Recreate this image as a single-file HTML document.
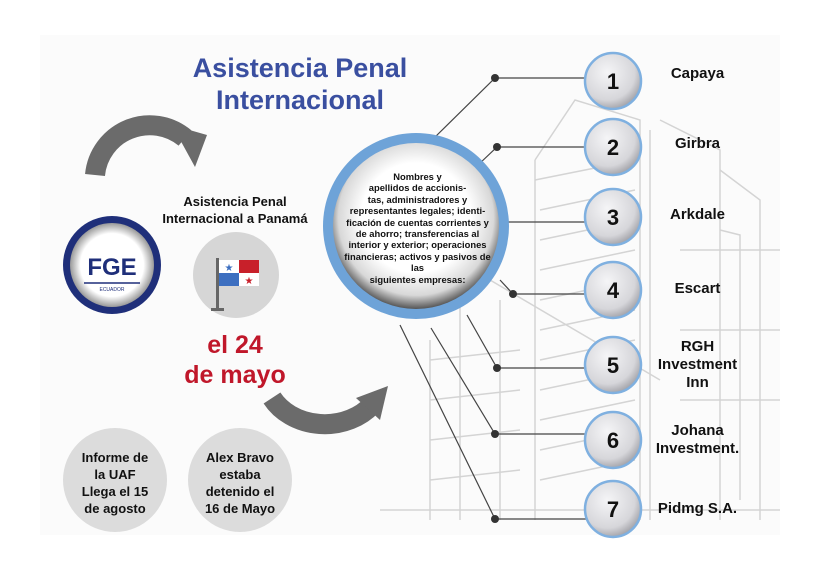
<!DOCTYPE html>
<html><head><meta charset="utf-8"><style>
html,body{margin:0;padding:0;background:#fff;}
body{width:819px;height:561px;position:relative;overflow:hidden;font-family:"Liberation Sans",Arial,sans-serif;}
.t{position:absolute;font-weight:bold;text-align:center;}
</style></head><body>
<svg width="819" height="561" style="position:absolute;left:0;top:0">
<defs>
<radialGradient id="g1" cx="50%" cy="45%" r="55%"><stop offset="0.6" stop-color="#fff"/><stop offset="0.85" stop-color="#d8d8d8"/><stop offset="1" stop-color="#555"/></radialGradient>
<radialGradient id="g2" cx="40%" cy="35%" r="70%"><stop offset="0" stop-color="#f5f5f7"/><stop offset="0.7" stop-color="#d6d6da"/><stop offset="1" stop-color="#9a9aa0"/></radialGradient>
<radialGradient id="g3" cx="50%" cy="50%" r="50%"><stop offset="0.75" stop-color="#fff"/><stop offset="1" stop-color="#999"/></radialGradient>
</defs>
<rect x="40" y="35" width="740" height="500" fill="#fbfbfb"/>
<g stroke="#d4d4d4" stroke-width="1.5" fill="none">
<path d="M535 160 L575 100 L640 120 L640 520 M535 160 L535 520"/>
<path d="M535 180 L635 160 M540 210 L635 190 M540 240 L635 220 M540 270 L635 250 M540 300 L635 280 M540 330 L635 310 M540 360 L635 340 M540 390 L635 370 M540 420 L635 400 M540 450 L635 430 M540 480 L635 460"/>
<path d="M660 120 L720 150 L720 520 M650 130 L650 520"/>
<path d="M720 170 L760 200 L760 520 M720 230 L740 235 L740 500"/>
<path d="M430 340 L430 520 M460 300 L460 520 M500 300 L500 520 M430 360 L520 350 M430 400 L520 390 M430 440 L520 430 M430 480 L520 470"/>
<path d="M490 280 L660 380 M380 510 L780 510"/>
<path d="M680 250 L780 250 M680 330 L780 330 M680 400 L780 400"/>
</g>
<path d="M95 175 A55 55 0 0 1 185 138" stroke="#6b6b6b" stroke-width="20" fill="none"/>
<polygon points="172,125 207,135 195,167" fill="#6b6b6b"/>
<path d="M272 398 A60 50 0 0 0 372 405" stroke="#6b6b6b" stroke-width="20" fill="none"/>
<polygon points="356,398 388,386 380,420" fill="#6b6b6b"/>
<g stroke="#444" stroke-width="1.2" fill="none">
<path d="M431 141 L495 78 L590 78"/>
<path d="M478 165 L497 147 L590 147"/>
<path d="M508 222 L590 222"/>
<path d="M500 280 L513 294 L590 294"/>
<path d="M467 315 L497 368 L590 368"/>
<path d="M431 328 L495 434 L590 434"/>
<path d="M400 325 L495 519 L590 519"/>
</g>
<g fill="#333">
<circle cx="495" cy="78" r="4"/><circle cx="497" cy="147" r="4"/><circle cx="513" cy="294" r="4"/>
<circle cx="497" cy="368" r="4"/><circle cx="495" cy="434" r="4"/><circle cx="495" cy="519" r="4"/>
</g>
<circle cx="416" cy="226" r="93" fill="#6ea3d8"/>
<circle cx="416" cy="226" r="83" fill="url(#g1)"/>
<g stroke="#7fb0e0" stroke-width="2.5" fill="url(#g2)">
<circle cx="613" cy="81" r="28"/><circle cx="613" cy="147" r="28"/><circle cx="613" cy="217" r="28"/>
<circle cx="613" cy="290" r="28"/><circle cx="613" cy="365" r="28"/><circle cx="613" cy="440" r="28"/><circle cx="613" cy="509" r="28"/>
</g>
<g font-family="Liberation Sans,Arial,sans-serif" font-weight="bold" font-size="22" fill="#111" text-anchor="middle">
<text x="613" y="89">1</text><text x="613" y="155">2</text><text x="613" y="225">3</text><text x="613" y="298">4</text>
<text x="613" y="373">5</text><text x="613" y="448">6</text><text x="613" y="517">7</text>
</g>
<circle cx="112" cy="265" r="49" fill="#1f2f7a"/>
<circle cx="112" cy="265" r="42" fill="url(#g3)"/>
<text x="112" y="275" text-anchor="middle" font-family="Liberation Sans,Arial,sans-serif" font-weight="bold" font-size="24" fill="#1f2f7a">FGE</text>
<line x1="84" y1="283" x2="140" y2="283" stroke="#1f2f7a" stroke-width="1.5"/>
<text x="112" y="291" text-anchor="middle" font-family="Liberation Sans,Arial,sans-serif" font-size="5" fill="#1f2f7a">ECUADOR</text>
<circle cx="236" cy="275" r="43" fill="#d6d6d6"/>
<rect x="216" y="258" width="3" height="52" fill="#666"/><rect x="211" y="308" width="13" height="3" fill="#666"/>
<rect x="219" y="260" width="20" height="13" fill="#fff"/><rect x="239" y="260" width="20" height="13" fill="#c8202a"/>
<rect x="219" y="273" width="20" height="13" fill="#3d6fc0"/><rect x="239" y="273" width="20" height="13" fill="#fff"/>
<text x="229" y="271" font-size="10" text-anchor="middle" fill="#3d6fc0">★</text>
<text x="249" y="284" font-size="10" text-anchor="middle" fill="#c8202a">★</text>
<circle cx="115" cy="480" r="52" fill="#dcdcdc"/>
<circle cx="240" cy="480" r="52" fill="#dcdcdc"/>
</svg>
<div class="t" style="left:160px;top:52px;width:280px;font-size:27px;color:#3a4fa0;line-height:32px">Asistencia Penal<br>Internacional</div>
<div class="t" style="left:150px;top:193px;width:170px;font-size:13px;line-height:17px;color:#111">Asistencia Penal<br>Internacional a Panamá</div>
<div class="t" style="left:170px;top:330px;width:130px;font-size:25px;line-height:30px;color:#c0172a">el 24<br>de mayo</div>
<div class="t" style="left:65px;top:449px;width:100px;font-size:13px;line-height:17px;color:#111">Informe de<br>la UAF<br>Llega el 15<br>de agosto</div>
<div class="t" style="left:190px;top:449px;width:100px;font-size:13px;line-height:17px;color:#111">Alex Bravo<br>estaba<br>detenido el<br>16 de Mayo</div>
<div class="t" style="left:328px;top:171px;width:179px;font-size:9.4px;line-height:11.4px;color:#111">Nombres y<br>apellidos de accionis-<br>tas, administradores y<br>representantes legales; identi-<br>ficación de cuentas corrientes y<br>de ahorro; transferencias al<br>interior y exterior; operaciones<br>financieras; activos y pasivos de<br>las<br>siguientes empresas:</div>
<div class="t" style="left:640px;top:65px;width:115px;font-size:15px;color:#111">Capaya</div>
<div class="t" style="left:640px;top:135px;width:115px;font-size:15px;color:#111">Girbra</div>
<div class="t" style="left:640px;top:206px;width:115px;font-size:15px;color:#111">Arkdale</div>
<div class="t" style="left:640px;top:280px;width:115px;font-size:15px;color:#111">Escart</div>
<div class="t" style="left:640px;top:338px;width:115px;font-size:15px;line-height:18px;color:#111">RGH<br>Investment<br>Inn</div>
<div class="t" style="left:640px;top:422px;width:115px;font-size:15px;line-height:18px;color:#111">Johana<br>Investment.</div>
<div class="t" style="left:640px;top:500px;width:115px;font-size:15px;color:#111">Pidmg S.A.</div>
</body></html>
